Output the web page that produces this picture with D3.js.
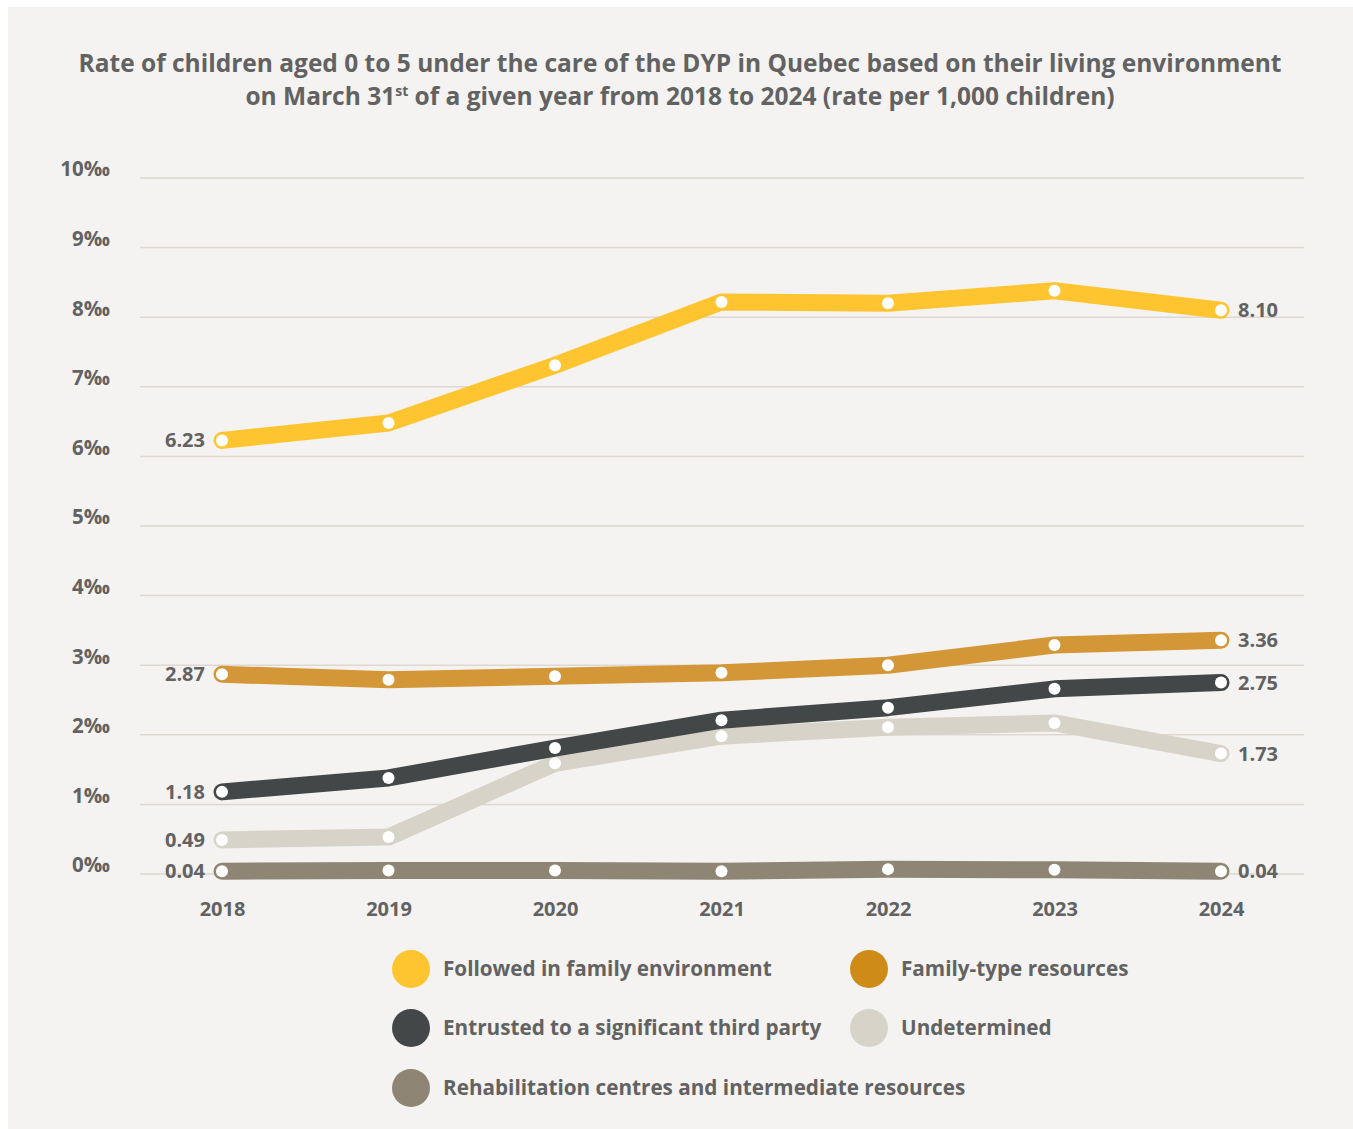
<!DOCTYPE html>
<html>
<head>
<meta charset="utf-8">
<script src="https://cdn.jsdelivr.net/npm/d3@7"></script>
<style>
  html, body { margin: 0; padding: 0; background: #ffffff; }
  svg { display: block; }
  text { font-family: "Open Sans", Lato, sans-serif; font-weight: 700; fill: #626262; }
</style>
</head>
<body>
<svg id="chart" width="1353" height="1129"></svg>
<script>
// Years on the x axis
const years = ["2018", "2019", "2020", "2021", "2022", "2023", "2024"];

// Rates per 1,000 children, one array per living environment
const followedFamily = [6.23, 6.48, 7.31, 8.22, 8.20, 8.38, 8.10];
const familyType     = [2.87, 2.79, 2.84, 2.89, 3.00, 3.29, 3.36];
const entrusted      = [1.18, 1.38, 1.81, 2.21, 2.39, 2.66, 2.75];
const undetermined   = [0.49, 0.53, 1.59, 1.98, 2.11, 2.17, 1.73];
const rehabilitation = [0.04, 0.05, 0.05, 0.04, 0.07, 0.06, 0.04];

const seriesNames = [
  "Followed in family environment",
  "Family-type resources",
  "Entrusted to a significant third party",
  "Undetermined",
  "Rehabilitation centres and intermediate resources"
];

const yTicks = [0, 1, 2, 3, 4, 5, 6, 7, 8, 9, 10];

// line colours and legend swatch colours
const lineColors   = ["#ffc530", "#d49738", "#434748", "#d8d3c9", "#8e8574"];
const legendColors = ["#ffc530", "#cf8b18", "#434748", "#d8d3c9", "#8e8574"];

const seriesValues = [followedFamily, familyType, entrusted, undetermined, rehabilitation];
const series = seriesNames.map((name, i) => ({ name, values: seriesValues[i], color: lineColors[i], swatch: legendColors[i] }));

const svg = d3.select("#chart");

// panel background
svg.append("rect").attr("x", 8).attr("y", 7).attr("width", 1345).attr("height", 1122).attr("fill", "#f4f3f1");

// title
const title = svg.append("text").attr("text-anchor", "middle").style("font-size", "24.5px");
title.append("tspan").attr("x", 680).attr("y", 72).text("Rate of children aged 0 to 5 under the care of the DYP in Quebec based on their living environment");
const l2 = title.append("tspan").attr("x", 680).attr("y", 105);
l2.append("tspan").text("on March 31");
l2.append("tspan").attr("dy", -9).style("font-size", "14px").text("st");
l2.append("tspan").attr("dy", 9).text(" of a given year from 2018 to 2024 (rate per 1,000 children)");

// scales
const x = d3.scalePoint().domain(years).range([222, 1221]);
const y = d3.scaleLinear().domain([0, 10]).range([874, 178]);

// gridlines
svg.append("g").selectAll("line").data(yTicks).join("line")
  .attr("x1", 140).attr("x2", 1304)
  .attr("y1", d => y(d)).attr("y2", d => y(d))
  .attr("stroke", "#ddd8d0").attr("stroke-width", 1.5);

const axisFont = "\"Open Sans\", Lato, sans-serif";

// y axis labels
const yAxis = svg.append("g").attr("transform", "translate(110,0)")
  .call(d3.axisLeft(y).tickValues(yTicks).tickSize(0).tickPadding(0).tickFormat(d => d + "‰"));
yAxis.select(".domain").remove();
yAxis.selectAll("text").style("font-size", "20.5px").style("font-family", axisFont).style("font-weight", 700)
  .attr("fill", "#626262").attr("dy", "-0.1em");

// x axis labels
const xAxis = svg.append("g").attr("transform", "translate(0,909)")
  .call(d3.axisBottom(x).tickSize(0).tickPadding(0));
xAxis.select(".domain").remove();
xAxis.selectAll("text").style("font-size", "20px").style("font-family", axisFont).style("font-weight", 700)
  .attr("fill", "#626262").attr("dy", "0.35em");

const line = d3.line().x((d, i) => x(years[i])).y(d => y(d));

// draw back to front so the darker lines sit above the pale ones
const drawOrder = [4, 3, 2, 1, 0];
drawOrder.forEach(si => {
  const s = series[si];
  const g = svg.append("g");
  g.append("path").datum(s.values).attr("d", line)
    .attr("fill", "none").attr("stroke", s.color).attr("stroke-width", 17)
    .attr("stroke-linecap", "round").attr("stroke-linejoin", "round");
  g.selectAll("circle").data(s.values).join("circle")
    .attr("cx", (d, i) => x(years[i])).attr("cy", d => y(d)).attr("r", 6)
    .attr("fill", "#ffffff");
  // start and end value labels
  const first = s.values[0], last = s.values[s.values.length - 1];
  g.append("text").attr("x", x(years[0]) - 17).attr("y", y(first)).attr("dy", "0.35em")
    .attr("text-anchor", "end").style("font-size", "20px").text(first.toFixed(2));
  g.append("text").attr("x", x(years[years.length - 1]) + 17).attr("y", y(last)).attr("dy", "0.35em")
    .attr("text-anchor", "start").style("font-size", "20px").text(last.toFixed(2));
});

// legend
const legendPos = [[411, 969], [869, 969], [411, 1028], [869, 1028], [411, 1088]];
const legend = svg.append("g");
series.forEach((s, i) => {
  const [lx, ly] = legendPos[i];
  legend.append("circle").attr("cx", lx).attr("cy", ly).attr("r", 19).attr("fill", s.swatch);
  legend.append("text").attr("x", lx + 32).attr("y", ly).attr("dy", "0.35em")
    .style("font-size", "20.7px").text(s.name);
});
</script>
</body>
</html>
